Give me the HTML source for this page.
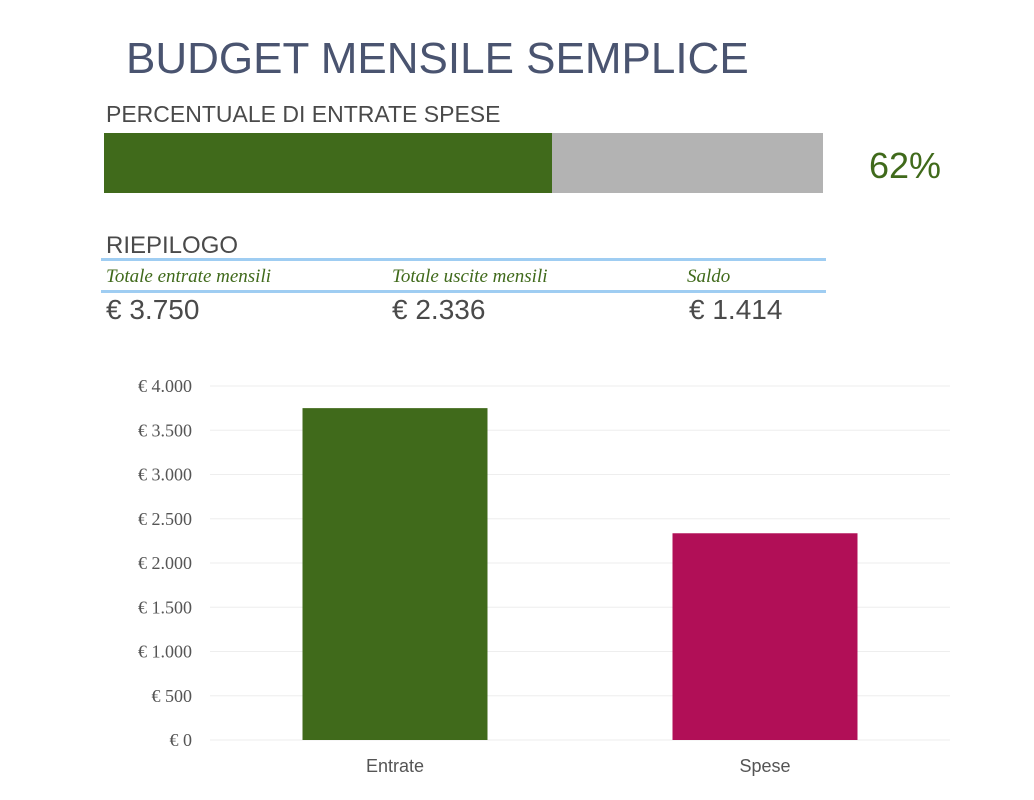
<!DOCTYPE html>
<html><head><meta charset="utf-8"><style>
body{margin:0;width:1034px;height:800px;background:#fff;font-family:"Liberation Sans",sans-serif;position:relative;overflow:hidden}
.a{position:absolute;margin:0}
</style></head><body>
<div class="a" style="left:126px;top:34px;font-size:44px;color:#4a5470;letter-spacing:0px">BUDGET MENSILE SEMPLICE</div>
<div class="a" style="left:106px;top:101px;font-size:23px;color:#4a4a4a">PERCENTUALE DI ENTRATE SPESE</div>
<div class="a" style="left:104px;top:133px;width:719px;height:60px;background:#b3b3b3"></div>
<div class="a" style="left:104px;top:133px;width:448px;height:60px;background:#406a1b"></div>
<div class="a" style="left:869px;top:145px;font-size:36px;color:#406a1b">62%</div>
<div class="a" style="left:106px;top:232px;font-size:24px;color:#4a4a4a">RIEPILOGO</div>
<div class="a" style="left:101px;top:258px;width:725px;height:3px;background:#9fcdf2"></div>
<div class="a" style="left:101px;top:290px;width:725px;height:3px;background:#9fcdf2"></div>
<div class="a" style="left:106px;top:266px;font:italic 19px 'Liberation Serif',serif;color:#406a1b">Totale entrate mensili</div>
<div class="a" style="left:392px;top:266px;font:italic 19px 'Liberation Serif',serif;color:#406a1b">Totale uscite mensili</div>
<div class="a" style="left:687px;top:266px;font:italic 19px 'Liberation Serif',serif;color:#406a1b">Saldo</div>
<div class="a" style="left:106px;top:294px;font-size:28px;color:#4a4a4a">€ 3.750</div>
<div class="a" style="left:392px;top:294px;font-size:28px;color:#4a4a4a">€ 2.336</div>
<div class="a" style="left:689px;top:294px;font-size:28px;color:#4a4a4a">€ 1.414</div>
<svg class="a" style="left:0;top:0" width="1034" height="800" id="ch"></svg>
<script>
const categories=["Entrate","Spese"];
const values=[3750,2336];
const colors=["#406a1b","#b10f57"];
const ticks=[0,500,1000,1500,2000,2500,3000,3500,4000];
const tickLabels=["€ 0","€ 500","€ 1.000","€ 1.500","€ 2.000","€ 2.500","€ 3.000","€ 3.500","€ 4.000"];
const svg=document.getElementById('ch'),NS="http://www.w3.org/2000/svg";
const x0=210,x1=950,y0=740,y1=386,max=4000;
const y=v=>y0-(v/max)*(y0-y1);
const bw=(x1-x0)/categories.length;
function mk(t,a){const e=document.createElementNS(NS,t);for(const k in a)e.setAttribute(k,a[k]);svg.appendChild(e);return e;}
ticks.forEach((t,i)=>{
 const l=mk('line',{x1:x0,x2:x1,y1:y(t),y2:y(t),stroke:'#eeeeee','stroke-width':1});
 
 
 const tx=mk('text',{x:192,y:y(t)+6,'text-anchor':'end','font-family':'Liberation Serif,serif','font-size':18,fill:'#555'});
 tx.textContent=tickLabels[i];
 
 
});
categories.forEach((c,i)=>{
 const cx=x0+bw*(i+0.5),w=bw*0.5;
 const r=mk('rect',{x:cx-w/2,y:y(values[i]),width:w,height:y0-y(values[i]),fill:colors[i]});
 
 
 const t=mk('text',{x:cx,y:772,'text-anchor':'middle','font-size':18,fill:'#555','font-family':'Liberation Sans,sans-serif'});
 t.textContent=c;
 
 
});
</script>
</body></html>
